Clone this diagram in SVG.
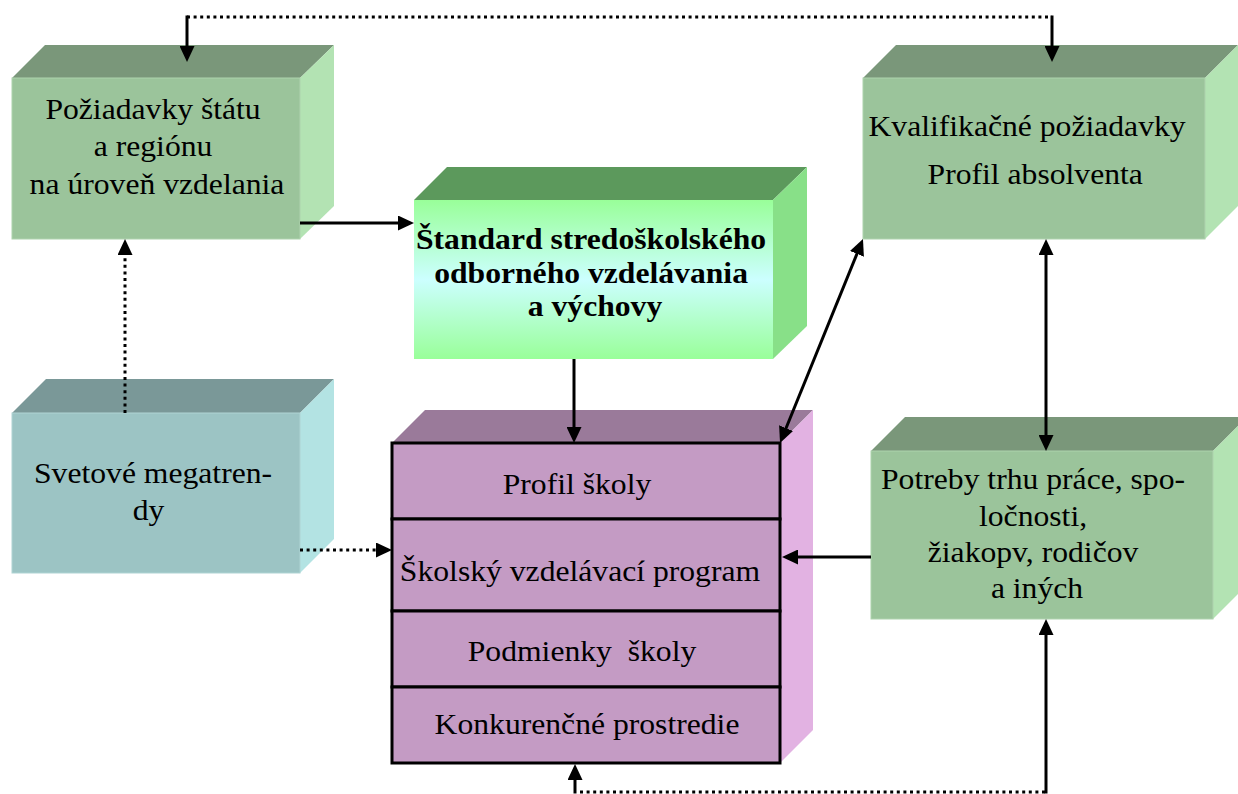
<svg xmlns="http://www.w3.org/2000/svg" width="1238" height="794" viewBox="0 0 1238 794">
<style>
  .t { font-family: "Liberation Serif", "Times New Roman", serif; font-size: 30px; fill: #000; text-anchor: middle; }
  .b { font-weight: bold; }
  .gf { fill: #9bc49b; stroke: #aed3ae; stroke-width: 1; }
  .gt { fill: #7a977a; }
  .gr { fill: #b3e3b3; }
  .cf { fill: #9cc4c4; stroke: #afd4d4; stroke-width: 1; }
  .ct { fill: #7a9898; }
  .cr { fill: #b3e3e3; }
  .pf { fill: #c49bc4; stroke: #000; stroke-width: 3; }
  .pt { fill: #9a7a9a; }
  .pr { fill: #e2b2e2; }
  .sl { stroke: #000; stroke-width: 3; fill: none; }
  .dl { stroke: #000; stroke-width: 3; fill: none; stroke-dasharray: 3 3.6; }
</style>
<defs>
  <linearGradient id="sg" x1="0" y1="0" x2="0" y2="1">
    <stop offset="0" stop-color="#99ff99"/>
    <stop offset="0.5" stop-color="#ccffff"/>
    <stop offset="1" stop-color="#99ff99"/>
  </linearGradient>
  <marker id="ah" viewBox="0 0 16 15" markerUnits="userSpaceOnUse" markerWidth="16" markerHeight="15" refX="2" refY="7.5" orient="auto-start-reverse">
    <path d="M0,0 L16,7.5 L0,15 z" fill="#000"/>
  </marker>
</defs>
<rect width="1238" height="794" fill="#fff"/>

<g id="node-poziadavky">
  <polygon class="gt" points="12,78 45,45 334,45 300,78"/>
  <polygon class="gr" points="300,78 334,45 334,206 300,239"/>
  <rect class="gf" x="12" y="78" width="288" height="161"/>
  <text class="t" transform="translate(157,0) scale(1.055,1)">
    <tspan x="0" y="119">Požiadavky štátu</tspan>
    <tspan x="0" y="156">a regiónu</tspan>
    <tspan x="0" y="194">na úroveň vzdelania</tspan>
  </text>
</g>

<g id="node-standard">
  <polygon fill="#5c995c" points="414,200 447,167 807,167 773,200"/>
  <polygon fill="#88e088" points="773,200 807,167 807,326 773,359"/>
  <rect fill="url(#sg)" x="414" y="200" width="359" height="159"/>
  <text class="t b" transform="translate(595,0) scale(1.055,1)">
    <tspan x="0" y="249">Štandard stredoškolského</tspan>
    <tspan x="0" y="283">odborného vzdelávania</tspan>
    <tspan x="0" y="316">a výchovy</tspan>
  </text>
</g>

<g id="node-kvalifikacne">
  <polygon class="gt" points="863,78 896,45 1238,45 1205,78"/>
  <polygon class="gr" points="1205,78 1238,45 1238,206 1205,239"/>
  <rect class="gf" x="863" y="78" width="342" height="161"/>
  <text class="t" transform="translate(1031,0) scale(1.055,1)">
    <tspan x="0" y="136">Kvalifikačné požiadavky</tspan>
    <tspan x="4" y="184">Profil absolventa</tspan>
  </text>
</g>

<g id="node-potreby">
  <polygon class="gt" points="871,451 905,417 1247,417 1213,451"/>
  <polygon class="gr" points="1213,451 1247,417 1247,585 1213,619"/>
  <rect class="gf" x="871" y="451" width="342" height="168"/>
  <text class="t" transform="translate(1037,0) scale(1.055,1)">
    <tspan x="0" y="489">Potreby trhu práce, spo-</tspan>
    <tspan x="0" y="526">ločnosti,</tspan>
    <tspan x="0" y="562">žiakopv, rodičov</tspan>
    <tspan x="0" y="598">a iných</tspan>
  </text>
</g>

<g id="node-svetove">
  <polygon class="ct" points="12,413 46,379 334,379 300,413"/>
  <polygon class="cr" points="300,413 334,379 334,539 300,573"/>
  <rect class="cf" x="12" y="413" width="288" height="160"/>
  <text class="t" transform="translate(157,0) scale(1.055,1)">
    <tspan x="0" y="483">Svetové megatren-</tspan>
    <tspan x="-8" y="520">dy</tspan>
  </text>
</g>

<g id="node-skola">
  <polygon class="pt" points="392,443 425,410 813,410 780,443"/>
  <polygon class="pr" points="780,443 813,410 813,730 780,763"/>
  <rect class="pf" x="392" y="443" width="388" height="76"/>
  <rect class="pf" x="392" y="519" width="388" height="92"/>
  <rect class="pf" x="392" y="611" width="388" height="76"/>
  <rect class="pf" x="392" y="687" width="388" height="76"/>
  <text class="t" transform="translate(577,0) scale(1.055,1)"><tspan x="0" y="494">Profil školy</tspan></text>
  <text class="t" transform="translate(580,0) scale(1.055,1)"><tspan x="0" y="581">Školský vzdelávací program</tspan></text>
  <text class="t" transform="translate(582,0) scale(1.055,1)"><tspan x="0" y="661" xml:space="preserve">Podmienky  školy</tspan></text>
  <text class="t" transform="translate(587,0) scale(1.055,1)"><tspan x="0" y="734">Konkurenčné prostredie</tspan></text>
</g>

<g id="connectors">
  <line class="dl" x1="187" y1="17" x2="1052" y2="17"/>
  <line class="sl" x1="187" y1="15.5" x2="187" y2="48" marker-end="url(#ah)"/>
  <line class="sl" x1="1052" y1="15.5" x2="1052" y2="48" marker-end="url(#ah)"/>
  <line class="sl" x1="300" y1="223" x2="400" y2="223" marker-end="url(#ah)"/>
  <line class="dl" x1="125" y1="413" x2="125" y2="253" marker-end="url(#ah)"/>
  <line class="dl" x1="300" y1="550" x2="378" y2="550" marker-end="url(#ah)"/>
  <line class="sl" x1="574" y1="359" x2="574" y2="429" marker-end="url(#ah)"/>
  <line class="sl" x1="785.3" y1="430" x2="857.7" y2="252" marker-start="url(#ah)" marker-end="url(#ah)"/>
  <line class="sl" x1="1046" y1="253" x2="1046" y2="437" marker-start="url(#ah)" marker-end="url(#ah)"/>
  <line class="sl" x1="871" y1="557" x2="796" y2="557" marker-end="url(#ah)"/>
  <line class="dl" x1="580" y1="792" x2="1046" y2="792"/>
  <line class="sl" x1="1046" y1="793.5" x2="1046" y2="633" marker-end="url(#ah)"/>
  <line class="sl" x1="575" y1="793.5" x2="575" y2="778" marker-end="url(#ah)"/>
</g>
</svg>
